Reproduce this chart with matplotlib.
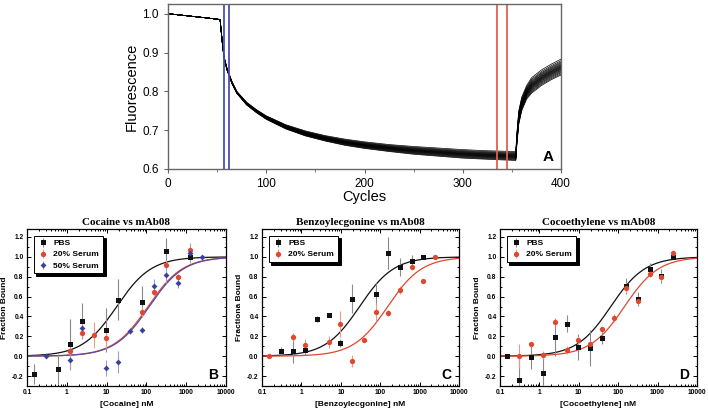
import numpy as np
import matplotlib.pyplot as plt
from matplotlib.ticker import FixedLocator, NullFormatter, MultipleLocator, LogLocator

plt.rcParams['font.family'] = ['Liberation Sans', 'DejaVu Sans']

# ---------------- panel A: sensor traces ----------------
cycles = [0, 20, 40, 53, 55, 57, 60, 65, 70, 80, 90, 100, 120, 140, 160, 180,
          200, 225, 250, 275, 300, 325, 354, 355, 357, 360, 365, 370, 380, 390, 400]
fluo_low = [1.0, 0.9945, 0.989, 0.985, 0.93, 0.885, 0.855, 0.82, 0.795, 0.765, 0.745,
            0.728, 0.703, 0.685, 0.672, 0.661, 0.653, 0.645, 0.638, 0.633, 0.628,
            0.625, 0.622, 0.66, 0.715, 0.75, 0.78, 0.795, 0.815, 0.83, 0.842]
fluo_high = [1.0, 0.9945, 0.989, 0.985, 0.935, 0.89, 0.86, 0.826, 0.80, 0.772, 0.753,
             0.737, 0.714, 0.698, 0.686, 0.677, 0.670, 0.663, 0.658, 0.654, 0.650,
             0.647, 0.645, 0.69, 0.75, 0.785, 0.815, 0.835, 0.855, 0.87, 0.883]
trace_pos = [0.0, 0.07, 0.14, 0.2, 0.26, 0.31, 0.36, 0.4, 0.44, 0.48, 0.52, 0.56,
             0.6, 0.65, 0.7, 0.76, 0.82, 0.9, 1.0]
blue_marks = [56.5, 62.5]
red_marks = [334.5, 345.5]

# ---------------- panels B-D: binding data ----------------
# Cocaine
coc_pbs_x = [0.153, 0.61, 1.22, 2.44, 9.77, 19.5, 78.1, 312, 1250]
coc_pbs_y = [-0.18, -0.13, 0.12, 0.355, 0.26, 0.57, 0.55, 1.055, 1.0]
coc_pbs_e = [0.10, 0.15, 0.25, 0.185, 0.22, 0.21, 0.16, 0.135, 0.02]
coc_s20_x = [1.22, 2.44, 4.88, 9.77, 78.1, 156, 312, 625, 1250]
coc_s20_y = [0.057, 0.23, 0.215, 0.18, 0.445, 0.65, 0.915, 0.80, 1.065]
coc_s20_e = [0.04, 0.05, 0.13, 0.10, 0.05, 0.04, 0.05, 0.03, 0.03]
coc_s50_x = [0.305, 1.22, 2.44, 9.77, 19.5, 39.1, 78.1, 156, 312, 625, 1250, 2500]
coc_s50_y = [0.0, -0.035, 0.28, -0.115, -0.06, 0.255, 0.26, 0.71, 0.82, 0.74, 1.035, 1.0]
coc_s50_e = [0.01, 0.10, 0.05, 0.08, 0.11, 0.03, 0.03, 0.07, 0.08, 0.05, 0.10, 0.01]
coc_kd = {'PBS': 18, '20% Serum': 110, '50% Serum': 118}

# Benzoylecgonine
bze_pbs_x = [0.305, 0.61, 1.22, 2.44, 4.88, 9.77, 19.5, 78.1, 156, 312, 625, 1250]
bze_pbs_y = [0.05, 0.05, 0.065, 0.375, 0.415, 0.13, 0.58, 0.625, 1.04, 0.895, 0.96, 1.0]
bze_pbs_e = [0.045, 0.12, 0.05, 0.03, 0.02, 0.04, 0.15, 0.11, 0.16, 0.09, 0.06, 0.01]
bze_s20_x = [0.153, 0.61, 1.22, 4.88, 9.77, 19.5, 39.1, 78.1, 156, 312, 625, 1250, 2500]
bze_s20_y = [0.0, 0.195, 0.115, 0.145, 0.325, -0.05, 0.16, 0.445, 0.435, 0.665, 0.90, 0.76, 1.0]
bze_s20_e = [0.0, 0.04, 0.06, 0.06, 0.13, 0.06, 0.02, 0.09, 0.03, 0.04, 0.03, 0.02, 0.01]
bze_kd = {'PBS': 30, '20% Serum': 155}

# Cocaethylene
cce_pbs_x = [0.153, 0.305, 0.61, 1.22, 2.44, 4.88, 9.77, 19.5, 39.1, 156, 312, 625, 1250, 2500]
cce_pbs_y = [0.0, -0.24, -0.01, -0.17, 0.19, 0.325, 0.095, 0.085, 0.185, 0.71, 0.575, 0.88, 0.81, 1.0]
cce_pbs_e = [0.0, 0.24, 0.12, 0.21, 0.19, 0.085, 0.13, 0.18, 0.06, 0.08, 0.07, 0.06, 0.07, 0.02]
cce_s20_x = [0.305, 0.61, 1.22, 2.44, 4.88, 9.77, 19.5, 39.1, 78.1, 156, 312, 625, 1250, 2500]
cce_s20_y = [0.0, 0.125, 0.01, 0.34, 0.065, 0.165, 0.12, 0.275, 0.385, 0.685, 0.555, 0.83, 0.80, 1.04]
cce_s20_e = [0.12, 0.02, 0.04, 0.03, 0.04, 0.04, 0.03, 0.02, 0.04, 0.05, 0.04, 0.03, 0.04, 0.03]
cce_kd = {'PBS': 65, '20% Serum': 145}

x_ticks = [0.1, 1, 10, 100, 1000, 10000]
x_tick_labels = ['0.1', '1', '10', '100', '1000', '10000']
y_ticks = [-0.2, 0.0, 0.2, 0.4, 0.6, 0.8, 1.0, 1.2]

BLACK = '#111111'
RED = '#e0472f'
BLUE = '#3b3f9e'
styles = {
    'PBS': dict(color=BLACK, marker='s', ms=3.6, ecolor='#8a8a8a', line=BLACK),
    '20% Serum': dict(color=RED, marker='o', ms=3.8, ecolor='#e89a8c', line=RED),
    '50% Serum': dict(color=BLUE, marker='D', ms=3.0, ecolor='#9aa0d0', line='#5a4aa0'),
}

fig = plt.figure(figsize=(7.08, 4.13), dpi=100)

# ---- panel A ----
axA = fig.add_axes([0.2373, 0.5908, 0.5551, 0.3995])
low = np.array(fluo_low)
high = np.array(fluo_high)
for f in trace_pos:
    axA.plot(cycles, low + f * (high - low), color='black', lw=0.5)
for c in blue_marks:
    axA.axvline(c, color='#4a4fb0', lw=1.3)
for c in red_marks:
    axA.axvline(c, color='#e0604f', lw=1.3)
axA.set_xlim(0, 400)
axA.set_ylim(0.6, 1.025)
axA.set_xticks([0, 100, 200, 300, 400])
axA.xaxis.set_minor_locator(MultipleLocator(50))
axA.set_yticks([0.6, 0.7, 0.8, 0.9, 1.0])
axA.set_yticklabels(['0.6', '0.7', '0.8', '0.9', '1.0'])
axA.tick_params(labelsize=8.5, color='#666666', length=3, width=0.8)
axA.tick_params(which='minor', length=2, color='#666666')
for s in axA.spines.values():
    s.set_color('#666666')
    s.set_linewidth(1.0)
axA.set_xlabel('Cycles', fontsize=10.5, labelpad=0)
axA.set_ylabel('Fluorescence', fontsize=10.5, labelpad=3)
axA.text(0.967, 0.075, 'A', transform=axA.transAxes, fontsize=11, fontweight='bold',
         ha='center', va='center')


def binding_panel(rect, title, xlabel, ylabel, letter, series, kd):
    ax = fig.add_axes(rect)
    xs = np.logspace(-1, 4, 300)
    for name, (x, y, e) in series.items():
        st = styles[name]
        k = kd[name]
        ax.plot(xs, xs / (k + xs), color=st['line'], lw=0.9, zorder=2)
        ax.errorbar(x, y, yerr=e, fmt=st['marker'], color=st['color'], ecolor=st['ecolor'],
                    ms=st['ms'], mew=0, elinewidth=0.8, capsize=1.5, capthick=0.8,
                    label=name, zorder=3)
    ax.set_xscale('log')
    ax.set_xlim(0.1, 10000)
    ax.set_ylim(-0.3, 1.28)
    ax.xaxis.set_major_locator(FixedLocator(x_ticks))
    ax.set_xticklabels(x_tick_labels)
    ax.xaxis.set_minor_locator(LogLocator(base=10, subs=np.arange(2, 10), numticks=20))
    ax.xaxis.set_minor_formatter(NullFormatter())
    ax.set_yticks(y_ticks)
    ax.set_yticklabels(['%.1f' % v for v in y_ticks])
    ax.yaxis.set_minor_locator(MultipleLocator(0.1))
    ax.tick_params(which='both', direction='in', top=True, right=True, width=0.7)
    ax.tick_params(which='major', length=3, labelsize=4.8, pad=2.5)
    ax.tick_params(which='minor', length=1.5)
    for lab in ax.get_xticklabels() + ax.get_yticklabels():
        lab.set_fontweight('bold')
    for s in ax.spines.values():
        s.set_linewidth(0.9)
    ax.set_title(title, fontsize=8, fontweight='bold', family='Liberation Serif', pad=3)
    ax.set_xlabel(xlabel, fontsize=6, fontweight='bold', labelpad=3)
    ax.set_ylabel(ylabel, fontsize=6, fontweight='bold', labelpad=3)
    ax.text(0.935, 0.07, letter, transform=ax.transAxes, fontsize=10, fontweight='bold',
            ha='center', va='center')
    leg = ax.legend(loc='upper left', frameon=True, fancybox=False,
                    shadow={'color': 'black', 'alpha': 1}, borderaxespad=0.8,
                    handletextpad=0.5, handlelength=1.4, borderpad=0.45,
                    labelspacing=0.4, prop={'weight': 'bold', 'size': 6})
    leg.get_frame().set_edgecolor('black')
    leg.get_frame().set_linewidth(0.7)
    return ax


binding_panel([0.0381, 0.0654, 0.2811, 0.3801], 'Cocaine vs mAb08', '[Cocaine] nM',
              'Fraction Bound', 'B',
              {'PBS': (coc_pbs_x, coc_pbs_y, coc_pbs_e),
               '20% Serum': (coc_s20_x, coc_s20_y, coc_s20_e),
               '50% Serum': (coc_s50_x, coc_s50_y, coc_s50_e)}, coc_kd)
binding_panel([0.3701, 0.0654, 0.2782, 0.3801], 'Benzoylecgonine vs mAb08',
              '[Benzoylecgonine] nM', 'Fractiona Bound', 'C',
              {'PBS': (bze_pbs_x, bze_pbs_y, bze_pbs_e),
               '20% Serum': (bze_s20_x, bze_s20_y, bze_s20_e)}, bze_kd)
binding_panel([0.7062, 0.0654, 0.2782, 0.3801], 'Cocoethylene vs mAb08',
              '[Cocoethylene] nM', 'Fraction Bound', 'D',
              {'PBS': (cce_pbs_x, cce_pbs_y, cce_pbs_e),
               '20% Serum': (cce_s20_x, cce_s20_y, cce_s20_e)}, cce_kd)

fig.savefig('out.png', dpi=100)
